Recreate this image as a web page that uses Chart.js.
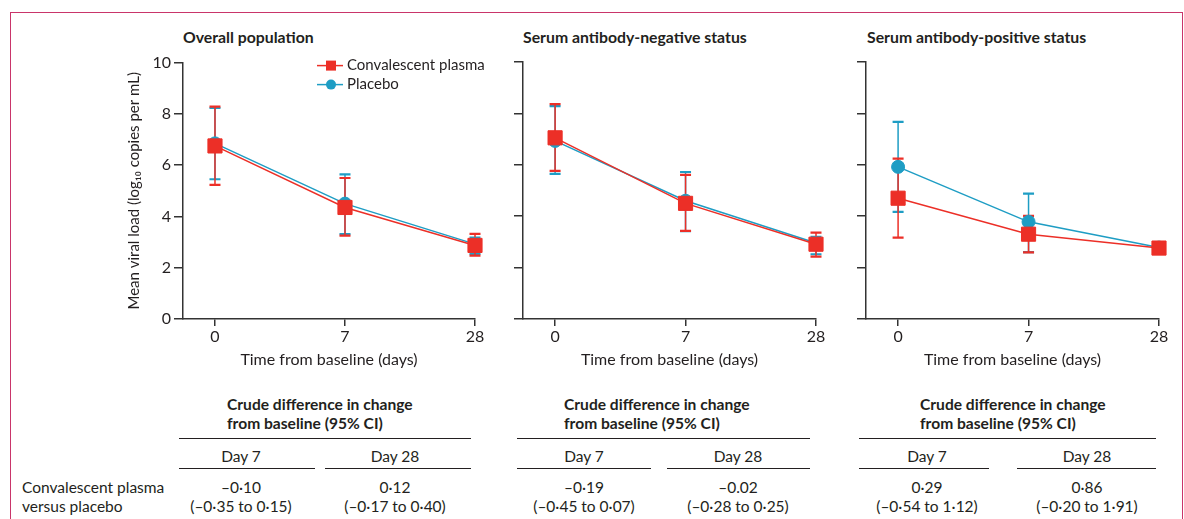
<!DOCTYPE html>
<html>
<head>
<meta charset="utf-8">
<script src="https://cdn.jsdelivr.net/npm/chart.js@4.4.1/dist/chart.umd.min.js"></script>
<style>
  body{margin:0;background:#fff;width:1184px;height:519px;overflow:hidden;position:relative;font-family:Lato,"Open Sans",sans-serif;color:#231f20;}
  .frame{position:absolute;left:10px;top:12px;width:1171px;height:520px;border:1.5px solid #c9356a;border-bottom:none;}
  canvas{position:absolute;}
  .ptitle{position:absolute;font-weight:bold;font-size:15.8px;line-height:18px;white-space:nowrap;}
  .t{position:absolute;font-size:15.5px;line-height:18px;white-space:nowrap;}
  .c{transform:translateX(-50%);}
  .b{font-weight:bold;font-size:15.6px;}
  .rule{position:absolute;height:0;border-top:1.5px solid #231f20;}
</style>
</head>
<body>
<div class="frame"></div>
<canvas id="p1" width="375" height="330" style="left:120px;top:50px"></canvas>
<canvas id="p2" width="326" height="330" style="left:510px;top:50px"></canvas>
<canvas id="p3" width="326" height="330" style="left:853px;top:50px"></canvas>
<div id="table"></div>
<script>
// x categories (days from baseline)
const dayLabels = ['0', '7', '28'];
const panelTitles = ['Overall population', 'Serum antibody-negative status', 'Serum antibody-positive status'];

// overall population
const overallPlasma     = [6.75, 4.35, 2.87];
const overallPlasmaLow  = [5.23, 3.25, 2.47];
const overallPlasmaHigh = [8.28, 5.50, 3.32];
const overallPlacebo     = [6.85, 4.50, 2.92];
const overallPlaceboLow  = [5.45, 3.31, 2.54];
const overallPlaceboHigh = [8.23, 5.64, 3.17];

// serum antibody-negative
const negPlasma     = [7.05, 4.50, 2.91];
const negPlasmaLow  = [5.76, 3.43, 2.43];
const negPlasmaHigh = [8.36, 5.61, 3.36];
const negPlacebo     = [6.93, 4.60, 2.96];
const negPlaceboLow  = [5.65, 3.42, 2.52];
const negPlaceboHigh = [8.28, 5.72, 3.20];

// serum antibody-positive (no CI shown at day 28)
const posPlasma     = [4.70, 3.30, 2.76];
const posPlasmaLow  = [3.17, 2.59, null];
const posPlasmaHigh = [6.24, 4.01, null];
const posPlacebo     = [5.92, 3.78, 2.78];
const posPlaceboLow  = [4.17, 2.60, null];
const posPlaceboHigh = [7.67, 4.88, null];

// crude difference table
const tableDays = ['Day 7', 'Day 28'];
const diffEstimates = [['–0·10', '0·12'], ['–0·19', '–0.02'], ['0·29', '0·86']];
const diffCIs = [['(–0·35 to 0·15)', '(–0·17 to 0·40)'], ['(–0·45 to 0·07)', '(–0·28 to 0·25)'], ['(–0·54 to 1·12)', '(–0·20 to 1·91)']];

const RED = '#ec2f27';
const BLUE = '#1e9dc4';
const AXIS = '#333333';
const TXT = '#231f20';
const FONT = 'Lato, "Open Sans", sans-serif';

// vertical CI bars with caps, drawn under the lines/markers
const errorBars = {
  id: 'errorBars',
  beforeDatasetsDraw(chart){
    const ctx = chart.ctx;
    const xs = chart.scales.x, ys = chart.scales.y;
    const metas = chart.getSortedVisibleDatasetMetas().slice().reverse();
    metas.forEach(meta => {
      const ds = chart.data.datasets[meta.index];
      if(!ds.errLow) return;
      ctx.save();
      ctx.strokeStyle = ds.borderColor;
      ds.errLow.forEach((lo, i) => {
        const hi = ds.errHigh[i];
        if(lo === null || hi === null) return;
        const x = xs.getPixelForValue(i);
        const y1 = ys.getPixelForValue(lo), y2 = ys.getPixelForValue(hi);
        ctx.lineWidth = 1.5;
        ctx.beginPath(); ctx.moveTo(x, y1); ctx.lineTo(x, y2); ctx.stroke();
        ctx.lineWidth = 2.2;
        ctx.beginPath();
        ctx.moveTo(x - 5.5, y1); ctx.lineTo(x + 5.5, y1);
        ctx.moveTo(x - 5.5, y2); ctx.lineTo(x + 5.5, y2);
        ctx.stroke();
      });
      ctx.restore();
    });
  }
};

// legend with line + marker, only for the first panel
const lineLegend = {
  id: 'lineLegend',
  afterDraw(chart, args, opts){
    if(!opts.show) return;
    const ctx = chart.ctx, a = chart.chartArea;
    const items = [
      { text: 'Convalescent plasma', color: RED, shape: 'rect', y: a.top + 3 },
      { text: 'Placebo', color: BLUE, shape: 'circle', y: a.top + 22 }
    ];
    ctx.save();
    items.forEach(it => {
      const x0 = a.left + 134, x1 = a.left + 160, cx = a.left + 148;
      ctx.strokeStyle = it.color; ctx.fillStyle = it.color; ctx.lineWidth = 1.5;
      ctx.beginPath(); ctx.moveTo(x0, it.y); ctx.lineTo(x1, it.y); ctx.stroke();
      if(it.shape === 'rect') ctx.fillRect(cx - 5, it.y - 5, 10, 10);
      else { ctx.beginPath(); ctx.arc(cx, it.y, 5, 0, Math.PI * 2); ctx.fill(); }
      ctx.fillStyle = TXT;
      ctx.font = '15px ' + FONT;
      ctx.textBaseline = 'middle';
      ctx.fillText(it.text, a.left + 164, it.y);
    });
    ctx.restore();
  }
};

function makePanel(id, plasma, plasmaLow, plasmaHigh, placebo, placeboLow, placeboHigh, first){
  const pts = arr => arr.map((v, i) => ({ x: i, y: v }));
  return new Chart(document.getElementById(id), {
    type: 'line',
    data: {
      datasets: [
        { label: 'Placebo', data: pts(placebo), errLow: placeboLow, errHigh: placeboHigh,
          borderColor: BLUE, backgroundColor: BLUE, borderWidth: 1.5,
          pointStyle: 'circle', pointRadius: 6.5, pointBorderWidth: 1, order: 2, clip: false },
        { label: 'Convalescent plasma', data: pts(plasma), errLow: plasmaLow, errHigh: plasmaHigh,
          borderColor: RED, backgroundColor: RED, borderWidth: 1.5,
          pointStyle: 'rect', pointRadius: 10, pointBorderWidth: 1, order: 1, clip: false }
      ]
    },
    options: {
      responsive: false,
      animation: false,
      layout: { padding: { top: 12, right: 20, bottom: 0, left: 0 } },
      plugins: { legend: { display: false }, tooltip: { enabled: false }, lineLegend: { show: first } },
      scales: {
        x: {
          type: 'linear', min: -0.246, max: 2,
          afterBuildTicks: s => { s.ticks = dayLabels.map((_, i) => ({ value: i })); },
          afterFit: s => { s.height = 61; },
          ticks: { callback: v => dayLabels[v], color: TXT, font: { family: FONT, size: 16 }, padding: 1, maxRotation: 0 },
          grid: { drawOnChartArea: false, drawTicks: true, tickLength: 7, color: AXIS, lineWidth: 1.5 },
          border: { color: AXIS, width: 1.5 },
          title: { display: true, text: 'Time from baseline (days)', color: TXT, font: { family: FONT, size: 16 }, padding: { top: 0, bottom: 11 } }
        },
        y: {
          min: 0, max: 10,
          afterFit: s => { s.width = first ? 63 : 13; },
          ticks: { stepSize: 2, display: first, color: TXT, font: { family: FONT, size: 16 }, padding: 3 },
          grid: { drawOnChartArea: false, drawTicks: true, tickLength: 9, color: AXIS, lineWidth: 1.5 },
          border: { color: AXIS, width: 1.5 },
          title: { display: first, text: 'Mean viral load (log₁₀ copies per mL)', color: TXT, font: { family: FONT, size: 15 }, padding: { top: 5, bottom: 0 } }
        }
      }
    },
    plugins: [errorBars, lineLegend]
  });
}

makePanel('p1', overallPlasma, overallPlasmaLow, overallPlasmaHigh, overallPlacebo, overallPlaceboLow, overallPlaceboHigh, true);
makePanel('p2', negPlasma, negPlasmaLow, negPlasmaHigh, negPlacebo, negPlaceboLow, negPlaceboHigh, false);
makePanel('p3', posPlasma, posPlasmaLow, posPlasmaHigh, posPlacebo, posPlaceboLow, posPlaceboHigh, false);

// panel titles and the table below
const titleX = [183, 523, 867];
const headX = [227, 564, 920];
const topRules = [[179, 471], [517, 810], [859, 1156]];
const subRules = [[[179, 315], [325, 471]], [[517, 651], [667, 810]], [[859, 989], [1017, 1156]]];
const colCenters = [[241, 395], [584, 738], [927, 1087]];

const tbl = document.getElementById('table');
function add(cls, text, x, y, extra){
  const d = document.createElement('div');
  d.className = cls; d.textContent = text;
  d.style.left = x + 'px'; d.style.top = (y - 9) + 'px';
  if(extra) Object.assign(d.style, extra);
  tbl.appendChild(d);
}
function rule(x0, x1, y){
  const d = document.createElement('div');
  d.className = 'rule';
  d.style.left = x0 + 'px'; d.style.width = (x1 - x0) + 'px'; d.style.top = y + 'px';
  tbl.appendChild(d);
}
panelTitles.forEach((t, p) => {
  add('ptitle', t, titleX[p], 37);
  add('t b', 'Crude difference in change', headX[p], 404);
  add('t b', 'from baseline (95% CI)', headX[p], 423);
  rule(topRules[p][0], topRules[p][1], 438);
  tableDays.forEach((d, k) => {
    rule(subRules[p][k][0], subRules[p][k][1], 468);
    add('t c', d, colCenters[p][k], 456);
    add('t c', diffEstimates[p][k], colCenters[p][k], 487);
    add('t c', diffCIs[p][k], colCenters[p][k], 506);
  });
});
add('t', 'Convalescent plasma', 22, 487);
add('t', 'versus placebo', 22, 506);
</script>
</body>
</html>
